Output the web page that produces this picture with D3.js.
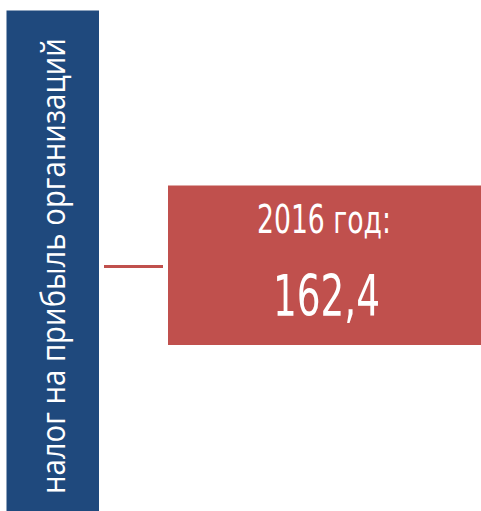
<!DOCTYPE html>
<html>
<head>
<meta charset="utf-8">
<script src="https://cdn.jsdelivr.net/npm/d3@7"></script>
<style>
  html, body { margin: 0; padding: 0; background: #ffffff; }
  svg { display: block; }
</style>
</head>
<body>
<div id="chart"></div>
<script>
// данные
const categories = ['налог на прибыль организаций'];
const years = ['2016'];
const values = [162.4];

const width = 481, height = 511;

const svg = d3.select('#chart')
    .append('svg')
    .attr('width', width)
    .attr('height', height);

// вертикальная синяя полоса с названием
const barX = d3.scaleBand().domain(categories).range([6.5, 99]).padding(0);

svg.selectAll('.cat')
    .data(categories)
    .enter()
    .append('rect')
    .attr('class', 'cat')
    .attr('x', d => barX(d))
    .attr('y', 10.5)
    .attr('width', barX.bandwidth())
    .attr('height', height - 10.5)
    .attr('fill', '#1f497d');

svg.selectAll('.cat-label')
    .data(categories)
    .enter()
    .append('text')
    .attr('class', 'cat-label')
    .attr('transform', d => `translate(${barX(d) + 58}, 494) rotate(-90)`)
    .attr('textLength', 456)
    .attr('lengthAdjust', 'spacingAndGlyphs')
    .attr('fill', '#ffffff')
    .style('font-family', '"Open Sans", "Noto Sans", sans-serif')
    .style('font-size', '33px')
    .text(d => d);

// соединительная линия
svg.append('line')
    .attr('x1', 104)
    .attr('x2', 163)
    .attr('y1', 266.5)
    .attr('y2', 266.5)
    .attr('stroke', '#c0504d')
    .attr('stroke-width', 3);

// красный блок со значением
const boxX = d3.scaleBand().domain(years).range([168, 481]);

const box = svg.selectAll('.val')
    .data(years.map((y, i) => ({ year: y, value: values[i] })))
    .enter()
    .append('g')
    .attr('class', 'val');

box.append('rect')
    .attr('x', d => boxX(d.year))
    .attr('y', 185.5)
    .attr('width', boxX.bandwidth())
    .attr('height', 159.5)
    .attr('fill', '#c0504d');

const fmt = v => d3.format('.1f')(v).replace('.', ',');

box.append('text')
    .attr('x', d => boxX(d.year) + boxX.bandwidth() / 2 - 0.5)
    .attr('y', 233)
    .attr('text-anchor', 'middle')
    .attr('fill', '#ffffff')
    .attr('textLength', 134)
    .attr('lengthAdjust', 'spacingAndGlyphs')
    .style('font-family', '"Liberation Sans Narrow", "DejaVu Sans Condensed", sans-serif')
    .style('font-size', '39px')
    .text(d => `${d.year} год:`);

box.append('text')
    .attr('x', d => boxX(d.year) + boxX.bandwidth() / 2 + 2)
    .attr('y', 316)
    .attr('text-anchor', 'middle')
    .attr('fill', '#ffffff')
    .attr('textLength', 107)
    .attr('lengthAdjust', 'spacingAndGlyphs')
    .style('font-family', '"Liberation Sans Narrow", "DejaVu Sans Condensed", sans-serif')
    .style('font-size', '57px')
    .text(d => fmt(d.value));
</script>
</body>
</html>
